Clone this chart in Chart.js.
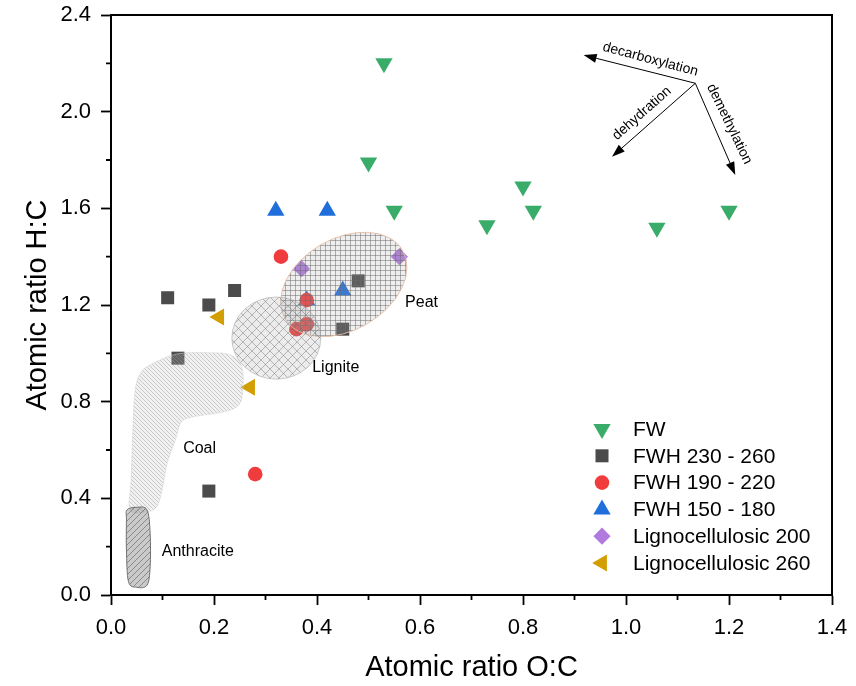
<!DOCTYPE html>
<html><head><meta charset="utf-8">
<script src="https://cdn.jsdelivr.net/npm/chart.js@4/dist/chart.umd.min.js"></script>
<style>html,body{margin:0;padding:0;background:#fff;}canvas{display:block;}</style>
</head><body>
<canvas id="c" width="856" height="686"></canvas>
<script>
// ---------- data ----------
const seriesNames = ['FW', 'FWH 230 - 260', 'FWH 190 - 220', 'FWH 150 - 180', 'Lignocellulosic 200', 'Lignocellulosic 260'];
const fwX = [0.53, 0.50, 0.55, 0.73, 0.80, 0.82, 1.06, 1.20];
const fwY = [2.20, 1.79, 1.59, 1.53, 1.69, 1.59, 1.52, 1.59];
const fwh230X = [0.11, 0.19, 0.24, 0.13, 0.48, 0.45, 0.19];
const fwh230Y = [1.23, 1.20, 1.26, 0.98, 1.30, 1.10, 0.43];
const fwh190X = [0.33, 0.28, 0.36, 0.38, 0.38];
const fwh190Y = [1.40, 0.50, 1.10, 1.12, 1.22];
const fwh150X = [0.32, 0.42, 0.45, 0.38];
const fwh150Y = [1.59, 1.59, 1.26, 1.22];
const ligno200X = [0.37, 0.56];
const ligno200Y = [1.35, 1.40];
const ligno260X = [0.21, 0.27];
const ligno260Y = [1.15, 0.86];

const xTicks = [0, 0.2, 0.4, 0.6, 0.8, 1.0, 1.2, 1.4];
const yTicks = [0, 0.4, 0.8, 1.2, 1.6, 2.0, 2.4];
const xMinorTicks = [0.1, 0.3, 0.5, 0.7, 0.9, 1.1, 1.3];
const yMinorTicks = [0.2, 0.6, 1.0, 1.4, 1.8, 2.2];

// region outlines (data coordinates)
const coalX = [0.076, 0.128, 0.193, 0.232, 0.254, 0.256, 0.248, 0.219, 0.154, 0.135, 0.125, 0.109, 0.099, 0.089, 0.070, 0.037, 0.039, 0.043, 0.047, 0.057];
const coalY = [0.952, 0.997, 1.002, 0.993, 0.945, 0.848, 0.786, 0.758, 0.735, 0.710, 0.641, 0.545, 0.434, 0.365, 0.345, 0.352, 0.476, 0.710, 0.848, 0.917];
const anthX = [0.031, 0.050, 0.070, 0.076, 0.076, 0.070, 0.050, 0.034, 0.030, 0.030];
const anthY = [0.352, 0.363, 0.352, 0.255, 0.117, 0.041, 0.032, 0.055, 0.186, 0.310];
const peatCenter = [0.452, 1.285];
const peatAxes = [0.132, 0.089];   // semi axes in O:C units
const peatAngle = 30;
const ligniteCenter = [0.321, 1.063];
const ligniteRadii = [0.0864, 0.170];

const regionNames = ['Peat', 'Lignite', 'Coal', 'Anthracite'];
const regionLabelX = [0.603, 0.4365, 0.172, 0.1685];
const regionLabelY = [1.208, 0.939, 0.607, 0.179];

const arrowOrigin = [1.1346, 2.1175];
const arrowNames = ['decarboxylation', 'dehydration', 'demethylation'];
const arrowEndX = [0.9177, 0.9728, 1.2122];
const arrowEndY = [2.234, 1.8134, 1.738];
const arrowLabelX = [1.0472, 1.031, 1.2006];
const arrowLabelY = [2.2164, 1.993, 1.9487];
const arrowLabelRot = [15, -41.5, 64];

// ---------- styles ----------
const colors = ['#3aac6a', '#4b4b4b', '#f03c3c', '#1f6edc', '#b07ade', '#d29e00'];
const styles = ['triangle', 'rect', 'circle', 'triangle', 'rectRot', 'triangle'];
const rotations = [180, 0, 0, 0, 0, 270];
const radii = [10, 9.2, 7.3, 10, 8.6, 9.8];
const FONT = "'Liberation Sans', Arial, Helvetica, sans-serif";

function pts(xs, ys) { return xs.map((x, i) => ({x: x, y: ys[i]})); }
const seriesData = [pts(fwX, fwY), pts(fwh230X, fwh230Y), pts(fwh190X, fwh190Y), pts(fwh150X, fwh150Y), pts(ligno200X, ligno200Y), pts(ligno260X, ligno260Y)];

const datasets = seriesNames.map((n, i) => ({
  label: n, data: seriesData[i],
  pointStyle: styles[i], rotation: rotations[i], pointRadius: radii[i], pointHoverRadius: radii[i],
  backgroundColor: colors[i], borderColor: colors[i], borderWidth: 0
}));

function makePattern(ctx, size, bg, lineColor, lw, fn) {
  const c = document.createElement('canvas'); c.width = size; c.height = size;
  const g = c.getContext('2d');
  if (bg) { g.fillStyle = bg; g.fillRect(0, 0, size, size); }
  g.strokeStyle = lineColor; g.lineWidth = lw; g.beginPath();
  fn(g, size); g.stroke();
  return ctx.createPattern(c, 'repeat');
}
function back(g, s) { for (let k = -1; k <= 1; k++) { g.moveTo(k * s, 0); g.lineTo(k * s + s, s); } }
function fwd(g, s) { for (let k = -1; k <= 1; k++) { g.moveTo(k * s, s); g.lineTo(k * s + s, 0); } }
function grid(g, s) { g.moveTo(0.5, 0); g.lineTo(0.5, s); g.moveTo(0, 0.5); g.lineTo(s, 0.5); }

function smoothClosed(ctx, P) {
  const n = P.length;
  ctx.moveTo(P[0][0], P[0][1]);
  for (let i = 0; i < n; i++) {
    const p0 = P[(i - 1 + n) % n], p1 = P[i], p2 = P[(i + 1) % n], p3 = P[(i + 2) % n];
    const c1 = [p1[0] + (p2[0] - p0[0]) / 6, p1[1] + (p2[1] - p0[1]) / 6];
    const c2 = [p2[0] - (p3[0] - p1[0]) / 6, p2[1] - (p3[1] - p1[1]) / 6];
    ctx.bezierCurveTo(c1[0], c1[1], c2[0], c2[1], p2[0], p2[1]);
  }
  ctx.closePath();
}

const regionsPlugin = {
  id: 'regions',
  afterDatasetsDraw(chart) {
    const {ctx, scales: {x, y}} = chart;
    const X = v => x.getPixelForValue(v), Y = v => y.getPixelForValue(v);
    const ux = X(1) - X(0);
    ctx.save();
    // Peat
    const peatPat = makePattern(ctx, 5, 'rgba(170,170,170,0.2)', 'rgba(105,105,105,0.5)', 1, grid);
    ctx.beginPath();
    ctx.ellipse(X(peatCenter[0]), Y(peatCenter[1]), peatAxes[0] * ux, peatAxes[1] * ux, -peatAngle * Math.PI / 180, 0, Math.PI * 2);
    ctx.fillStyle = peatPat; ctx.fill();
    ctx.strokeStyle = 'rgba(232,190,165,0.9)'; ctx.lineWidth = 1; ctx.stroke();
    // Lignite
    const ligPat = makePattern(ctx, 9, 'rgba(170,170,170,0.22)', 'rgba(110,110,110,0.45)', 1, (g, s) => { back(g, s); fwd(g, s); });
    ctx.beginPath();
    ctx.ellipse(X(ligniteCenter[0]), Y(ligniteCenter[1]), ligniteRadii[0] * ux, Math.abs(Y(ligniteRadii[1]) - Y(0)), 0, 0, Math.PI * 2);
    ctx.fillStyle = ligPat; ctx.fill();
    ctx.strokeStyle = 'rgba(160,160,160,0.5)'; ctx.stroke();
    // Coal
    const coalPat = makePattern(ctx, 4, 'rgba(190,190,190,0.22)', 'rgba(150,150,150,0.5)', 0.9, back);
    ctx.beginPath();
    smoothClosed(ctx, coalX.map((v, i) => [X(v), Y(coalY[i])]));
    ctx.fillStyle = coalPat; ctx.fill();
    ctx.strokeStyle = 'rgba(210,210,210,0.5)'; ctx.stroke();
    // Anthracite
    const anPat = makePattern(ctx, 6, 'rgba(150,150,150,0.5)', 'rgba(85,85,85,0.55)', 1, fwd);
    ctx.beginPath();
    smoothClosed(ctx, anthX.map((v, i) => [X(v), Y(anthY[i])]));
    ctx.fillStyle = anPat; ctx.fill();
    ctx.strokeStyle = '#707070'; ctx.lineWidth = 1; ctx.stroke();
    // region labels
    ctx.fillStyle = '#000'; ctx.font = '16px ' + FONT; ctx.textAlign = 'center'; ctx.textBaseline = 'middle';
    regionNames.forEach((t, i) => ctx.fillText(t, X(regionLabelX[i]), Y(regionLabelY[i])));
    // arrows
    const ox = X(arrowOrigin[0]), oy = Y(arrowOrigin[1]);
    ctx.strokeStyle = '#000'; ctx.fillStyle = '#000'; ctx.lineWidth = 1;
    arrowNames.forEach((t, i) => {
      const ex = X(arrowEndX[i]), ey = Y(arrowEndY[i]);
      const a = Math.atan2(ey - oy, ex - ox);
      const L = 13, W = 4.5;
      const bx = ex - L * Math.cos(a), by = ey - L * Math.sin(a);
      ctx.beginPath(); ctx.moveTo(ox, oy); ctx.lineTo(bx, by); ctx.stroke();
      ctx.beginPath(); ctx.moveTo(ex, ey);
      ctx.lineTo(bx + W * Math.sin(a), by - W * Math.cos(a));
      ctx.lineTo(bx - W * Math.sin(a), by + W * Math.cos(a));
      ctx.closePath(); ctx.fill();
      ctx.save();
      ctx.translate(X(arrowLabelX[i]), Y(arrowLabelY[i]));
      ctx.rotate(arrowLabelRot[i] * Math.PI / 180);
      ctx.font = '14px ' + FONT; ctx.textAlign = 'center'; ctx.textBaseline = 'middle';
      ctx.fillText(t, 0, 0);
      ctx.restore();
    });
    ctx.restore();
  },
  afterDraw(chart) {
    const {ctx, chartArea: ca, scales: {x, y}} = chart;
    ctx.save();
    // frame
    ctx.strokeStyle = '#000'; ctx.lineWidth = 2;
    ctx.strokeRect(ca.left, ca.top, ca.right - ca.left, ca.bottom - ca.top);
    // minor ticks
    ctx.lineWidth = 1.8; ctx.beginPath();
    xMinorTicks.forEach(v => { const p = x.getPixelForValue(v); ctx.moveTo(p, ca.bottom); ctx.lineTo(p, ca.bottom + 5); });
    yMinorTicks.forEach(v => { const p = y.getPixelForValue(v); ctx.moveTo(ca.left, p); ctx.lineTo(ca.left - 5, p); });
    ctx.stroke();
    // legend
    const lx = ca.left + 491, tx = ca.left + 522, ly0 = ca.top + 414, dy = 26.8;
    ctx.font = '21px ' + FONT; ctx.textAlign = 'left'; ctx.textBaseline = 'middle';
    seriesNames.forEach((n, i) => {
      const yy = ly0 + i * dy;
      ctx.fillStyle = colors[i]; ctx.strokeStyle = colors[i];
      Chart.helpers.drawPoint(ctx, {pointStyle: styles[i], rotation: rotations[i], radius: radii[i], borderWidth: 0}, lx, yy);
      ctx.fillStyle = '#000';
      ctx.fillText(n, tx, yy + 1);
    });
    ctx.restore();
  }
};

new Chart(document.getElementById('c'), {
  type: 'scatter',
  data: {datasets: datasets},
  options: {
    responsive: false, animation: false, devicePixelRatio: 1,
    layout: {padding: {top: 15, right: 24, left: 0, bottom: 0}},
    plugins: {legend: {display: false}, tooltip: {enabled: false}},
    scales: {
      x: {
        type: 'linear', min: 0, max: 1.4,
        afterBuildTicks: s => { s.ticks = xTicks.map(v => ({value: v})); },
        afterFit: s => { s.height = 91; s.paddingLeft = 0; s.paddingRight = 0; },
        ticks: {callback: v => Number(v).toFixed(1), color: '#000', font: {size: 22, family: FONT}, padding: 10, maxRotation: 0},
        grid: {drawOnChartArea: false, drawTicks: true, tickLength: 10, tickColor: '#000', tickWidth: 1.8},
        border: {display: true, color: '#000', width: 2},
        title: {display: true, text: 'Atomic ratio O:C', color: '#000', font: {size: 29, family: FONT}, padding: {top: 0, bottom: 1}}
      },
      y: {
        type: 'linear', min: 0, max: 2.4,
        afterBuildTicks: s => { s.ticks = yTicks.map(v => ({value: v})); },
        afterFit: s => { s.width = 111; s.paddingTop = 0; s.paddingBottom = 0; },
        ticks: {callback: v => Number(v).toFixed(1), color: '#000', font: {size: 22, family: FONT}, padding: 10},
        grid: {drawOnChartArea: false, drawTicks: true, tickLength: 10, tickColor: '#000', tickWidth: 1.8},
        border: {display: true, color: '#000', width: 2},
        title: {display: true, text: 'Atomic ratio H:C', color: '#000', font: {size: 29, family: FONT}, padding: {top: 21, bottom: 0}}
      }
    }
  },
  plugins: [regionsPlugin]
});
</script>
</body></html>
